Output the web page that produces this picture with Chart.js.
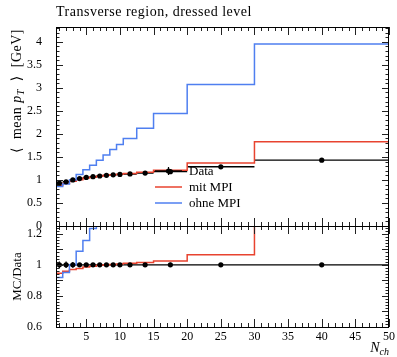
<!DOCTYPE html>
<html>
<head>
<meta charset="utf-8">
<script src="https://cdn.jsdelivr.net/npm/chart.js@4.4.0/dist/chart.umd.min.js"></script>
<style>
    html, body { margin: 0; padding: 0; background: #fff; }
    #wrap { position: relative; width: 397px; height: 357px; overflow: hidden; }
    canvas { position: absolute; left: 0; }
    #top-panel { top: 0; }
    #ratio-panel { top: 206px; }
</style>
</head>
<body>
<div id="wrap">
    <canvas id="ratio-panel" width="397" height="151"></canvas>
    <canvas id="top-panel" width="397" height="240"></canvas>
</div>
<script>
// N_ch bins
const binLo = [0.5, 1.5, 2.5, 3.5, 4.5, 5.5, 6.5, 7.5, 8.5, 9.5, 10.5, 12.5, 15, 20, 30];
const binHi = [1.5, 2.5, 3.5, 4.5, 5.5, 6.5, 7.5, 8.5, 9.5, 10.5, 12.5, 15, 20, 30, 50];
const nchCentres = [1, 2, 3, 4, 5, 6, 7, 8, 9, 10, 11.5, 13.75, 17.5, 25, 40];

// <mean pT> [GeV]
const dataMeanPt = [0.93, 0.96, 1.0, 1.03, 1.055, 1.07, 1.085, 1.10, 1.11, 1.12, 1.13, 1.15, 1.18, 1.285, 1.43];
const dataErr = [0.02, 0.02, 0.018, 0.012, 0.01, 0.01, 0.01, 0.01, 0.01, 0.01, 0.01, 0.012, 0.015, 0.012, 0.012];
const mitMPI = [0.88, 0.92, 0.97, 1.005, 1.04, 1.06, 1.082, 1.10, 1.113, 1.126, 1.141, 1.167, 1.21, 1.368, 1.83];
const ohneMPI = [0.855, 0.912, 1.0, 1.12, 1.22, 1.32, 1.43, 1.54, 1.66, 1.77, 1.90, 2.12, 2.44, 3.07, 3.95];

// axis ticks
const xTickVals = [5, 10, 15, 20, 25, 30, 35, 40, 45, 50];
const yTickVals = [0, 0.5, 1, 1.5, 2, 2.5, 3, 3.5, 4];
const ratioTickVals = [0.6, 0.7, 0.8, 0.9, 1, 1.1, 1.2];

const SERIF = '"Liberation Serif", "DejaVu Serif", serif';
const RED = '#e8432f';
const BLUE = '#4f7ff0';
Chart.defaults.font.family = SERIF;
Chart.defaults.color = '#000';

// histogram as stepped line
function stepPoints(vals) {
    const pts = vals.map((v, i) => ({ x: binLo[i], y: v }));
    pts.push({ x: binHi[binHi.length - 1], y: vals[vals.length - 1] });
    return pts;
}
// data horizontal bars (bin widths), separated by gaps
function hBars(vals) {
    const pts = [];
    vals.forEach((v, i) => pts.push({ x: binLo[i], y: v }, { x: binHi[i], y: v }, { x: binHi[i], y: null }));
    return pts;
}
function vBars(vals, errs) {
    const pts = [];
    vals.forEach((v, i) => pts.push({ x: nchCentres[i], y: v - errs[i] }, { x: nchCentres[i], y: v + errs[i] }, { x: nchCentres[i], y: null }));
    return pts;
}
const fmt = v => String(Math.round(v * 100) / 100);

function buildDatasets(data, err, mc1, mc2) {
    return [
        { type: 'scatter', data: data.map((v, i) => ({ x: nchCentres[i], y: v })), pointRadius: 2.6, pointBackgroundColor: '#000', pointBorderWidth: 0, order: 0 },
        { data: stepPoints(mc2), borderColor: BLUE, borderWidth: 1.5, stepped: 'before', pointRadius: 0, order: 1 },
        { data: stepPoints(mc1), borderColor: RED, borderWidth: 1.5, stepped: 'before', pointRadius: 0, order: 2 },
        { data: hBars(data), borderColor: '#000', borderWidth: 1.4, pointRadius: 0, spanGaps: false, order: 3 },
        { data: vBars(data, err), borderColor: '#000', borderWidth: 1.2, pointRadius: 0, spanGaps: false, order: 4 }
    ];
}

// frame + inward ticks on all four sides
function frameTicks(yMin, yMax, yMinorStep, yMajorEvery, majLen, minLen) {
    return {
        id: 'frameTicks',
        afterDraw(chart) {
            const { ctx, chartArea: a } = chart;
            const xs = chart.scales.x, ys = chart.scales.y;
            ctx.save();
            ctx.strokeStyle = '#222';
            ctx.lineWidth = 1;
            ctx.beginPath();
            for (let i = 1; i <= 50; i++) {
                const px = Math.round(xs.getPixelForValue(i)) + 0.5;
                const len = i % 5 === 0 ? majLen : minLen;
                ctx.moveTo(px, a.top); ctx.lineTo(px, a.top + len);
                ctx.moveTo(px, a.bottom); ctx.lineTo(px, a.bottom - len);
            }
            const n = Math.round((yMax - yMin) / yMinorStep);
            for (let k = 0; k <= n; k++) {
                const v = yMin + k * yMinorStep;
                const py = Math.round(ys.getPixelForValue(v)) + 0.5;
                const len = k % yMajorEvery === 0 ? 7 : 3.5;
                ctx.moveTo(a.left, py); ctx.lineTo(a.left + len, py);
                ctx.moveTo(a.right, py); ctx.lineTo(a.right - len, py);
            }
            ctx.stroke();
            ctx.strokeStyle = '#000';
            ctx.strokeRect(a.left + 0.5, a.top + 0.5, a.right - a.left - 1, a.bottom - a.top);
            ctx.restore();
        }
    };
}

// piecewise text: [text, font, dy]
function drawPieces(ctx, pieces, x, y, align, spacing) {
    ctx.letterSpacing = spacing || '0px';
    let total = 0;
    pieces.forEach(p => { ctx.font = p[1]; total += ctx.measureText(p[0]).width; });
    let cx = align === 'right' ? x - total : align === 'center' ? x - total / 2 : x;
    ctx.textBaseline = 'alphabetic';
    ctx.textAlign = 'left';
    pieces.forEach(p => { ctx.font = p[1]; ctx.fillText(p[0], cx, y + (p[2] || 0)); cx += ctx.measureText(p[0]).width; });
    ctx.letterSpacing = '0px';
}

const topDecor = {
    id: 'topDecor',
    afterDraw(chart) {
        const { ctx, chartArea: a } = chart;
        ctx.save();
        ctx.fillStyle = '#000';
        drawPieces(ctx, [['Transverse region, dressed level', '14px ' + SERIF]], a.left, 16, 'left', '0.5px');

        // y title
        ctx.save();
        ctx.translate(21, a.top + 2);
        ctx.rotate(-Math.PI / 2);
        drawPieces(ctx, [
            ['\u27E8  mean ', '14px ' + SERIF],
            ['p', 'italic 14px ' + SERIF],
            ['T', 'italic 10px ' + SERIF, 3],
            ['  \u27E9  [GeV]', '14px ' + SERIF]
        ], 0, 0, 'right', '0.5px');
        ctx.restore();

        // legend
        const lx0 = 155, lx1 = 182, tx = 189;
        const rows = [['Data', '#000', 171], ['mit MPI', RED, 187], ['ohne MPI', BLUE, 203]];
        rows.forEach(([label, col, y]) => {
            ctx.strokeStyle = col;
            ctx.lineWidth = col === '#000' ? 1.4 : 1.5;
            ctx.beginPath();
            ctx.moveTo(lx0, y); ctx.lineTo(lx1, y);
            ctx.stroke();
            ctx.fillStyle = '#000';
            ctx.font = '13px ' + SERIF;
            ctx.textBaseline = 'middle';
            ctx.fillText(label, tx, y + 1);
        });
        ctx.strokeStyle = '#000';
        ctx.lineWidth = 1.2;
        ctx.beginPath();
        ctx.moveTo(168.5, 167); ctx.lineTo(168.5, 175);
        ctx.stroke();
        ctx.beginPath();
        ctx.arc(168.5, 171, 2.6, 0, Math.PI * 2);
        ctx.fill();
        ctx.restore();
    }
};

const ratioDecor = {
    id: 'ratioDecor',
    afterDraw(chart) {
        const { ctx, chartArea: a } = chart;
        ctx.save();
        ctx.fillStyle = '#000';
        ctx.save();
        ctx.translate(21, (a.top + a.bottom) / 2);
        ctx.rotate(-Math.PI / 2);
        drawPieces(ctx, [['MC/Data', '13px ' + SERIF]], 0, 0, 'center');
        ctx.restore();
        drawPieces(ctx, [
            ['N', 'italic 14px ' + SERIF],
            ['ch', 'italic 10px ' + SERIF, 3]
        ], a.right, 146, 'right');
        ctx.restore();
    }
};

// top panel
new Chart(document.getElementById('top-panel').getContext('2d'), {
    type: 'line',
    data: { datasets: buildDatasets(dataMeanPt, dataErr, mitMPI, ohneMPI) },
    options: {
        responsive: false,
        animation: false,
        devicePixelRatio: 1,
        layout: { padding: { left: 16, right: 8, top: 27, bottom: 14 } },
        plugins: { legend: { display: false }, tooltip: { enabled: false } },
        scales: {
            x: { type: 'linear', min: 0.5, max: 50, display: false },
            y: {
                type: 'linear', min: 0, max: 4.32,
                grid: { display: false }, border: { display: false },
                afterBuildTicks: s => { s.ticks = yTickVals.map(v => ({ value: v })); },
                afterFit: s => { s.width = 40; },
                ticks: { font: { size: 12 }, padding: 6, callback: v => fmt(v) }
            }
        }
    },
    plugins: [frameTicks(0, 4.3, 0.1, 5, 8, 4), topDecor]
});

// ratio panel
const ratioMit = mitMPI.map((v, i) => v / dataMeanPt[i]);
const ratioOhne = ohneMPI.map((v, i) => v / dataMeanPt[i]);
const ratioErr = dataErr.map((e, i) => e / dataMeanPt[i]);
new Chart(document.getElementById('ratio-panel').getContext('2d'), {
    type: 'line',
    data: { datasets: buildDatasets(dataMeanPt.map(() => 1), ratioErr, ratioMit, ratioOhne) },
    options: {
        responsive: false,
        animation: false,
        devicePixelRatio: 1,
        layout: { padding: { left: 16, right: 8, top: 20, bottom: 0 } },
        plugins: { legend: { display: false }, tooltip: { enabled: false } },
        scales: {
            x: {
                type: 'linear', min: 0.5, max: 50,
                grid: { display: false }, border: { display: false },
                afterBuildTicks: s => { s.ticks = xTickVals.map(v => ({ value: v })); },
                afterFit: s => { s.height = 30; },
                ticks: { font: { size: 12 }, padding: -5, maxRotation: 0, callback: v => fmt(v) }
            },
            y: {
                type: 'linear', min: 0.6, max: 1.25,
                grid: { display: false }, border: { display: false },
                afterBuildTicks: s => { s.ticks = ratioTickVals.map(v => ({ value: v })); },
                afterFit: s => { s.width = 40; },
                ticks: { font: { size: 12 }, padding: 6, callback: v => fmt(v) }
            }
        }
    },
    plugins: [frameTicks(0.6, 1.24, 0.02, 5, 8, 4), ratioDecor]
});
</script>
</body>
</html>
